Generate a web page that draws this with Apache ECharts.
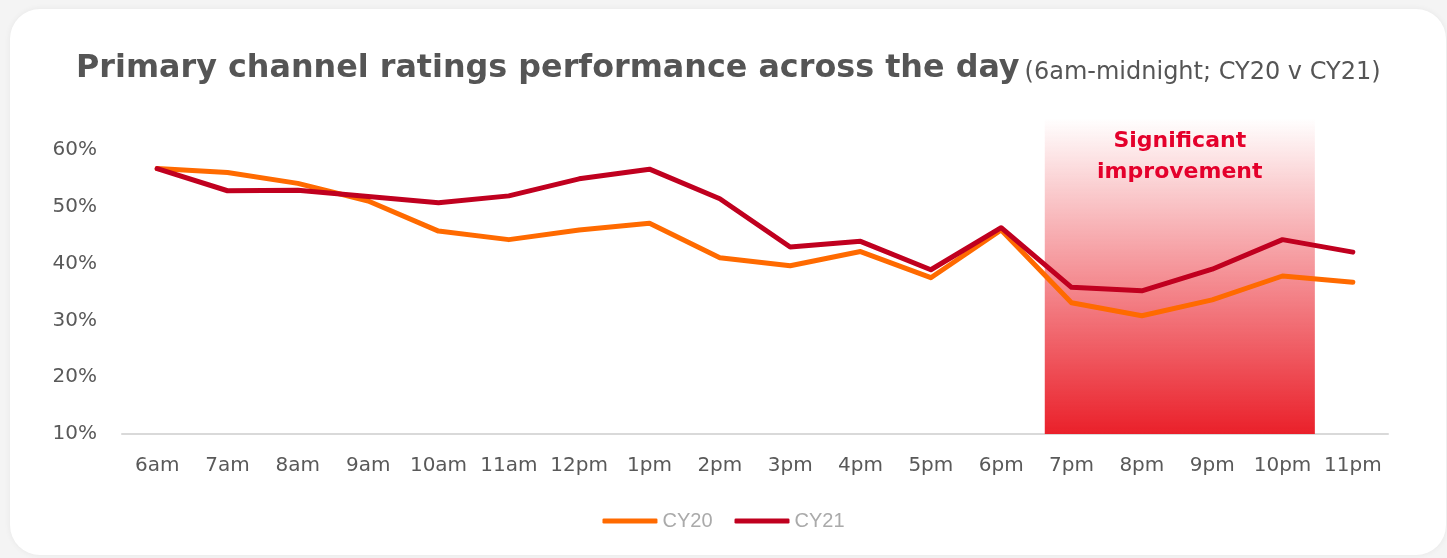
<!DOCTYPE html>
<html>
<head>
<meta charset="utf-8">
<script src="https://cdn.jsdelivr.net/npm/echarts@6/dist/echarts.min.js"></script>
<style>
  html, body { margin: 0; padding: 0; background: #f4f4f4; width: 1447px; height: 558px; overflow: hidden; }
  #card { position: absolute; left: 10px; top: 9px; width: 1436px; height: 546px; background: #fff; border-radius: 30px; box-shadow: 0 0 6px rgba(0,0,0,0.06); }
  #chart { position: absolute; left: 0; top: 0; width: 1447px; height: 558px; }
</style>
</head>
<body>
<div id="card"></div>
<div id="chart"></div>
<script>
const categories = ['6am','7am','8am','9am','10am','11am','12pm','1pm','2pm','3pm','4pm','5pm','6pm','7pm','8pm','9pm','10pm','11pm'];
const cy20 = [56.7, 56.0, 54.1, 51.0, 45.7, 44.2, 45.9, 47.1, 41.0, 39.6, 42.1, 37.5, 45.9, 33.1, 30.8, 33.6, 37.8, 36.7];
const cy21 = [56.7, 52.8, 52.9, 51.8, 50.7, 51.9, 54.9, 56.6, 51.4, 42.9, 43.9, 38.9, 46.3, 35.8, 35.2, 39.0, 44.2, 42.0];
const yTicks = [10, 20, 30, 40, 50, 60];
const highlightFrom = 12.62;   // x-position (category index units) of the shaded band start
const highlightTo = 16.46;     // end
const highlightTop = 65.6;     // top of shaded band in y-axis units
const highlightLabel = 'Significant\nimprovement';

const chart = echarts.init(document.getElementById('chart'), null, { renderer: 'canvas' });
const axisFont = '"DejaVu Sans", sans-serif';

chart.setOption({
  backgroundColor: 'transparent',
  animation: false,
  title: {
    left: 71, top: 38,
    text: '{b|Primary channel ratings performance across the day} {s|(6am-midnight; CY20 v CY21)}',
    textStyle: {
      fontWeight: 'normal',
      rich: {
        b: { fontFamily: '"DejaVu Sans", sans-serif', fontWeight: 'bold', fontSize: 31.8, color: '#555555', verticalAlign: 'bottom', lineHeight: 42 },
        s: { fontFamily: '"DejaVu Sans", sans-serif', fontWeight: 'normal', fontSize: 24, color: '#555555', verticalAlign: 'bottom', lineHeight: 38 }
      }
    }
  },
  legend: {
    bottom: 22, left: 'center',
    itemWidth: 55, itemHeight: 5, itemGap: 22,
    icon: 'roundRect',
    textStyle: { color: '#aaaaaa', fontSize: 20, fontFamily: 'Arial, "Liberation Sans", sans-serif' },
    data: ['CY20', 'CY21']
  },
  grid: { left: 122, right: 59, top: 93, bottom: 124, containLabel: false },
  xAxis: [
    {
      type: 'category', data: categories, boundaryGap: true,
      axisLine: { show: true, lineStyle: { color: '#d9d9d9', width: 2 } },
      axisTick: { show: false },
      axisLabel: { color: '#595959', fontSize: 20, fontFamily: axisFont, margin: 22, interval: 0 }
    },
    {
      type: 'value', min: -0.5, max: categories.length - 0.5, show: false
    }
  ],
  yAxis: {
    type: 'value', min: 10, max: 70, interval: 10,
    axisLine: { show: false }, axisTick: { show: false },
    splitLine: { show: false },
    axisLabel: {
      color: '#595959', fontSize: 20, fontFamily: axisFont, margin: 25,
      formatter: v => yTicks.includes(v) ? v + '%' : ''
    }
  },
  series: [
    {
      name: 'highlight', type: 'line', xAxisIndex: 1, data: [], silent: true,
      markArea: {
        silent: true,
        itemStyle: {
          color: new echarts.graphic.LinearGradient(0, 0, 0, 1, [
            { offset: 0, color: 'rgba(234,32,42,0)' },
            { offset: 1, color: 'rgba(234,32,42,1)' }
          ])
        },
        label: {
          show: true, position: 'insideTop', distance: 8,
          color: '#e4002b', fontSize: 22, fontWeight: 'bold', lineHeight: 31,
          fontFamily: '"DejaVu Sans", sans-serif', align: 'center'
        },
        data: [[
          { name: highlightLabel, xAxis: highlightFrom, yAxis: highlightTop },
          { xAxis: highlightTo, yAxis: 10 }
        ]]
      }
    },
    {
      name: 'CY20', type: 'line', data: cy20, symbol: 'none',
      lineStyle: { color: '#ff6a00', width: 5, cap: 'round', join: 'round' },
      itemStyle: { color: '#ff6a00' }, z: 3
    },
    {
      name: 'CY21', type: 'line', data: cy21, symbol: 'none',
      lineStyle: { color: '#c0001f', width: 5, cap: 'round', join: 'round' },
      itemStyle: { color: '#c0001f' }, z: 4
    }
  ]
});
</script>
</body>
</html>
